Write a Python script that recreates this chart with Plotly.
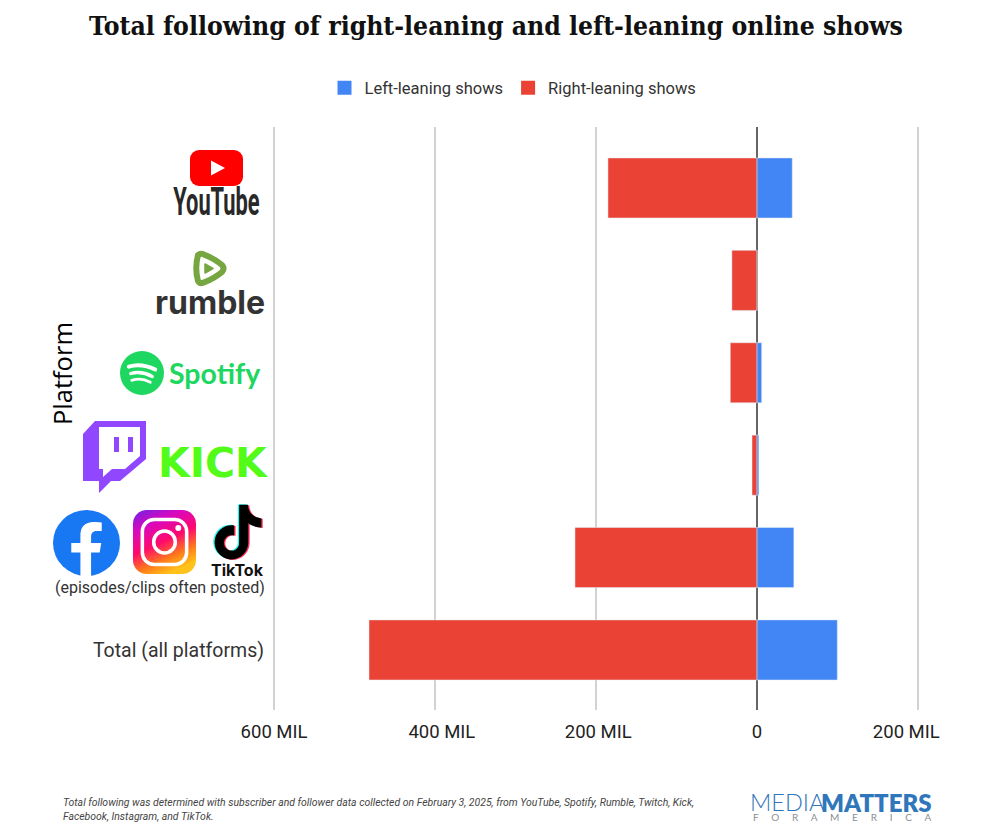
import base64
import plotly.graph_objects as go

platforms = ["YouTube", "Rumble", "Spotify", "Twitch/Kick", "Facebook/Instagram/TikTok", "Total (all platforms)"]
left_leaning = [44, 0.3, 6, 2.5, 46, 100]
right_leaning = [-185, -31, -33, -6, -226, -482]
x_ticks = [-600, -400, -200, 0, 200]
NB = "\u00a0"
x_tick_labels = ["600 MIL", NB * 3 + "400 MIL", NB + "200 MIL", "0", "200 MIL" + NB * 5]
y_tick_labels = ["", "", "", "", "", "Total (all platforms)"]

BLUE = "#4285f4"
RED = "#ea4335"
W, H = 1000, 835
L, R, T, B = 266, 958, 127, 710
TICK_FONT = "Roboto"


def px(x):
    return (x - L) / (R - L)


def py(y):
    return 1 - (y - T) / (B - T)


def svg_uri(vb_w, vb_h, body):
    svg = f'<svg xmlns="http://www.w3.org/2000/svg" viewBox="0 0 {vb_w} {vb_h}" width="{vb_w*4}" height="{vb_h*4}">{body}</svg>'
    return "data:image/svg+xml;base64," + base64.b64encode(svg.encode()).decode()


def logo(x0, y0, x1, y1, vb_w, vb_h, body):
    return dict(source=svg_uri(vb_w, vb_h, body), xref="paper", yref="paper",
                x=px(x0), y=py(y0), sizex=(x1 - x0) / (R - L), sizey=(y1 - y0) / (B - T),
                xanchor="left", yanchor="top", sizing="stretch", layer="above")


TIKTOK = ("M12.525.02c1.31-.02 2.61-.01 3.91-.02.08 1.53.63 3.09 1.75 4.17 1.12 1.11 2.7 1.62 4.24 1.79v4.03"
          "c-1.44-.05-2.89-.35-4.2-.97-.57-.26-1.1-.59-1.62-.93-.01 2.92.01 5.84-.02 8.75-.08 1.4-.54 2.79-1.35 3.94"
          "-1.31 1.92-3.58 3.17-5.91 3.21-1.43.08-2.86-.31-4.08-1.03-2.02-1.19-3.44-3.37-3.65-5.71-.02-.5-.03-1-.01-1.49"
          ".18-1.9 1.12-3.72 2.58-4.96 1.66-1.44 3.98-2.13 6.15-1.72.02 1.48-.04 2.96-.04 4.44-.99-.32-2.15-.23-3.02.37"
          "-.63.41-1.11 1.04-1.36 1.75-.21.51-.15 1.07-.14 1.61.24 1.64 1.82 3.02 3.5 2.87 1.12-.01 2.19-.66 2.77-1.61"
          ".19-.33.4-.67.41-1.06.1-1.79.06-3.57.07-5.36.01-4.03-.01-8.05.02-12.07z")

images = [
    logo(190, 150, 243, 186, 53, 36,
         '<rect width="53" height="36" rx="9" fill="#ff0000"/><path d="M21 10.5 L35 18 L21 25.5 Z" fill="#fff"/>'),
    logo(191, 250, 227, 287, 36, 37,
         '<path d="M7 5 Q10 2.5 14 5 Q24 9 31 15 Q34 18.5 31 22 Q24 28 14 32 Q9 34.5 7 31 Q3.5 18.5 7 5 Z" fill="#fff" stroke="#75a640" stroke-width="6" stroke-linejoin="round"/>'
         '<path d="M14 14 L22 18.5 L14 23 Z" fill="#75a640" stroke="#75a640" stroke-width="1.5" stroke-linejoin="round"/>'),
    logo(120, 351, 164, 395, 45, 45,
         '<circle cx="22.5" cy="22.5" r="22.5" fill="#1ed760"/>'
         '<g fill="none" stroke="#fff" stroke-linecap="round"><path d="M9 16 Q22 12 36 19" stroke-width="4"/>'
         '<path d="M11 23 Q22 20 33 26" stroke-width="3.4"/><path d="M12 30 Q22 27 31 32" stroke-width="2.8"/></g>'),
    logo(83, 421, 146, 493, 63, 72,
         '<path d="M0 13 L12 0 L63 0 L63 38 L37 60 L28 60 L16 72 L16 60 L0 60 Z" fill="#9146ff"/>'
         '<path d="M16 6 L57 6 L57 35 L42 48 L29 48 L20 56 L20 48 L16 48 Z" fill="#fff"/>'
         '<rect x="31" y="16" width="5" height="15" fill="#9146ff"/><rect x="45" y="16" width="5" height="15" fill="#9146ff"/>'),
    logo(53, 510, 120, 576, 66, 66,
         '<circle cx="33" cy="33" r="33" fill="#1877f2"/>'
         '<path d="M46 42.5 L47.5 33 H37.5 V27 C37.5 23.5 39 21 43 21 H48 V12.5 C48 12.5 44 12 40 12 C31.5 12 27 17 27 25 V33 H18 V42.5 H27 V66 H37.5 V42.5 Z" fill="#fff"/>'),
    logo(133, 510, 196, 574, 64, 64,
         '<defs><linearGradient id="g" x1="0.1" y1="0" x2="0.55" y2="1"><stop offset="0" stop-color="#7a1fe0"/>'
         '<stop offset="0.25" stop-color="#d808c0"/><stop offset="0.55" stop-color="#ff0a6c"/>'
         '<stop offset="0.8" stop-color="#ff7a1a"/><stop offset="1" stop-color="#ffc21a"/></linearGradient></defs>'
         '<rect width="64" height="64" rx="14" fill="url(#g)"/>'
         '<rect x="9.5" y="9.5" width="45" height="45" rx="12" fill="none" stroke="#fff" stroke-width="3.6"/>'
         '<circle cx="32" cy="32" r="11" fill="none" stroke="#fff" stroke-width="3.6"/><circle cx="46" cy="18" r="3" fill="#fff"/>'),
    logo(210, 503, 266, 561, 25, 25.5,
         f'<path d="{TIKTOK}" transform="translate(-0.1,0.6)" fill="#25f4ee"/>'
         f'<path d="{TIKTOK}" transform="translate(1.1,1)" fill="#fe2c55"/>'
         f'<path d="{TIKTOK}" transform="translate(0.5,0.8)" fill="#000"/>'),
]


def note(x, y, text, size, color, family, xanchor="center", yanchor="middle", weight=None, **kw):
    font = dict(size=size, color=color, family=family)
    if weight:
        font["weight"] = weight
    return dict(text=text, x=px(x), y=py(y), xref="paper", yref="paper", showarrow=False,
                xanchor=xanchor, yanchor=yanchor, align=xanchor,
                font=font, **kw)


america = (NB * 5).join("FORAMERICA")
annotations = [
    note(62, 374, "Platform", 25.5, "#000000", "Open Sans", textangle=-90),
    note(216.5, 202, "<b>YouTube</b>", 26, "#282828", "Roboto"),
    note(210, 302, "<b>rumble</b>", 32, "#333333", "Inter"),
    note(214.5, 373, "<b>Spotify</b>", 28.5, "#1ed760", "Lato"),
    note(213.5, 463, "<b>KICK</b>", 41, "#53fc18", "DejaVu Sans"),
    note(237, 569.5, "<b>TikTok</b>", 16, "#111111", "Inter"),
    note(267, 587, "(episodes/clips often posted)", 16, "#333333", TICK_FONT, xanchor="right"),
    note(61, 809, "<i>Total following was determined with subscriber and follower data collected on February 3, 2025, from YouTube, Spotify, Rumble, Twitch, Kick,<br>Facebook, Instagram, and TikTok.</i>",
         10.45, "#444444", TICK_FONT, xanchor="left"),
    note(827, 802, "MEDIA", 23.5, "#2f76ba", "Lato", xanchor="right", weight=300),
    note(819, 802, "MATTERS", 24, "#2f76ba", "Lato", xanchor="left", weight=800),
    note(933, 817, america, 10, "#8a8f94", "Lato", xanchor="right"),
]

fig = go.Figure()
fig.add_trace(go.Bar(y=platforms, x=left_leaning, orientation="h", marker_color=BLUE, showlegend=False))
fig.add_trace(go.Bar(y=platforms, x=right_leaning, orientation="h", marker_color=RED, showlegend=False))
fig.add_trace(go.Scatter(x=[None], y=[None], mode="markers", name="Left-leaning shows",
                         marker=dict(symbol="square", color=BLUE, size=16, line=dict(color=BLUE, width=3))))
fig.add_trace(go.Scatter(x=[None], y=[None], mode="markers", name="Right-leaning shows",
                         marker=dict(symbol="square", color=RED, size=16, line=dict(color=RED, width=3))))

fig.update_layout(
    width=W, height=H, autosize=False,
    margin=dict(l=L, r=W - R, t=T, b=H - B, pad=0),
    paper_bgcolor="white", plot_bgcolor="white",
    barmode="relative", bargap=0.35,
    title=dict(text="<b>Total following of right-leaning and left-leaning online shows</b>",
               x=496 / W, xanchor="center", y=1 - 26 / H, yanchor="middle",
               font=dict(family="DejaVu Serif Condensed", size=26.3, color="#111111")),
    legend=dict(orientation="h", x=px(513), xanchor="center", y=py(88), yanchor="middle",
                itemsizing="constant", traceorder="normal", font=dict(family=TICK_FONT, size=16.5, color="#333333")),
    xaxis=dict(range=[-610, 250], tickvals=x_ticks, ticktext=x_tick_labels, showgrid=True,
               gridcolor="#d2d2d2", gridwidth=2, zeroline=True, zerolinecolor="#666666", zerolinewidth=2,
               showline=False, ticks="outside", ticklen=5, tickcolor="rgba(0,0,0,0)",
               tickfont=dict(family=TICK_FONT, size=18.5, color="#222222")),
    yaxis=dict(range=[5.65, -0.66], type="category", categoryorder="array", categoryarray=platforms,
               tickmode="array", tickvals=platforms, ticktext=y_tick_labels, showgrid=False, zeroline=False,
               showline=False, ticks="", ticklabelstandoff=1,
               tickfont=dict(family=TICK_FONT, size=19.5, color="#333333")),
    images=images, annotations=annotations,
)

# The YouTube wordmark is much narrower and taller than any installed font: stretch the real text.
POST = """
document.body.style.margin = '0';
function narrowWordmark() {
  document.querySelectorAll('.annotation-text').forEach(function (t) {
    if (t.textContent === 'YouTube') {
      var b = t.getBBox(), cx = b.x + b.width / 2, cy = b.y + b.height / 2;
      t.setAttribute('transform', 'translate(' + cx + ' ' + cy + ') scale(0.84 1.5) translate(' + (-cx) + ' ' + (-cy) + ')');
    }
  });
}
narrowWordmark();
setTimeout(narrowWordmark, 50);
"""
fig.write_html("out.html", config={"displayModeBar": False}, post_script=POST)
